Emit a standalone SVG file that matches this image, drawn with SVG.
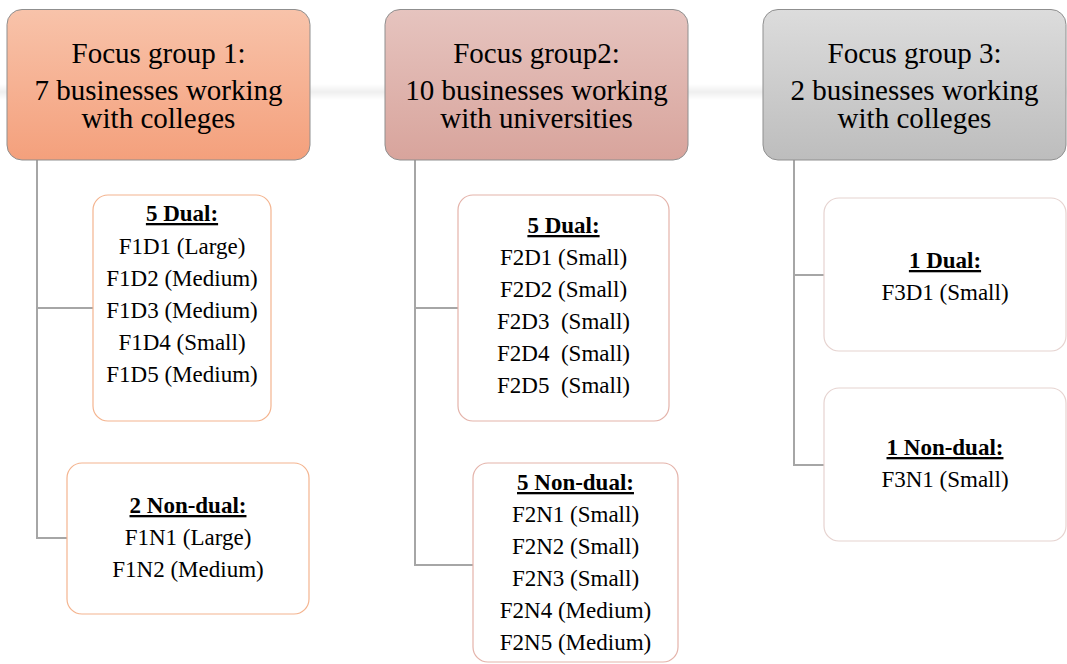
<svg xmlns="http://www.w3.org/2000/svg" width="1067" height="664" viewBox="0 0 1067 664">
<defs>
<linearGradient id="g1" x1="0" y1="0" x2="0" y2="1"><stop offset="0" stop-color="#f8c3aa"/><stop offset="1" stop-color="#f4a07c"/></linearGradient>
<linearGradient id="g2" x1="0" y1="0" x2="0" y2="1"><stop offset="0" stop-color="#e6c4bf"/><stop offset="1" stop-color="#d8a49c"/></linearGradient>
<linearGradient id="g3" x1="0" y1="0" x2="0" y2="1"><stop offset="0" stop-color="#dcdcdc"/><stop offset="1" stop-color="#bdbdbd"/></linearGradient>
<linearGradient id="band" x1="0" y1="0" x2="0" y2="1"><stop offset="0" stop-color="#ffffff"/><stop offset="0.5" stop-color="#efefef"/><stop offset="1" stop-color="#ffffff"/></linearGradient>
</defs>
<style>
.hdr{stroke:#8f8f8f;stroke-width:1}
.box{fill:#ffffff;stroke-width:1.2}
.b1{stroke:#f4b48f}
.b2{stroke:#e4b3aa}
.b3{stroke:#e6d3d0}
text{font-family:"Liberation Serif","Times New Roman",serif;fill:#000000;text-anchor:middle}
.h{font-size:29px}
.s{font-size:23px}
.l{font-weight:bold;text-decoration:underline}
.conn{fill:none;stroke:#a6a6a6;stroke-width:2}
</style>
<rect x="0" y="84" width="1067" height="16" fill="url(#band)"/>
<g id="connectors">
<path class="conn" d="M37 160 V538 H67 M37 308 H93"/>
<path class="conn" d="M415 160 V565 H473 M415 308 H458"/>
<path class="conn" d="M794 160 V465 H824 M794 275 H824"/>
</g>
<g id="fg1">
<rect class="hdr" x="7" y="9.5" width="303" height="150.5" rx="15" fill="url(#g1)"/>
<text class="h" x="158.5" y="63">Focus group 1:</text>
<text class="h" x="158.5" y="100">7 businesses working</text>
<text class="h" x="158.5" y="128">with colleges</text>
</g>
<g id="fg2">
<rect class="hdr" x="385" y="9.5" width="303" height="150.5" rx="15" fill="url(#g2)"/>
<text class="h" x="536.5" y="63">Focus group2:</text>
<text class="h" x="536.5" y="100">10 businesses working</text>
<text class="h" x="536.5" y="128">with universities</text>
</g>
<g id="fg3">
<rect class="hdr" x="763" y="9.5" width="303" height="150.5" rx="15" fill="url(#g3)"/>
<text class="h" x="914.5" y="63">Focus group 3:</text>
<text class="h" x="914.5" y="100">2 businesses working</text>
<text class="h" x="914.5" y="128">with colleges</text>
</g>
<g id="f1-dual">
<rect class="box b1" x="93" y="195" width="178" height="226" rx="15"/>
<text class="s l" x="182" y="221">5 Dual:</text>
<text class="s" x="182" y="254">F1D1 (Large)</text>
<text class="s" x="182" y="286">F1D2 (Medium)</text>
<text class="s" x="182" y="318">F1D3 (Medium)</text>
<text class="s" x="182" y="350">F1D4 (Small)</text>
<text class="s" x="182" y="382">F1D5 (Medium)</text>
</g>
<g id="f1-nondual">
<rect class="box b1" x="67" y="463" width="242" height="151" rx="15"/>
<text class="s l" x="188" y="513">2 Non-dual:</text>
<text class="s" x="188" y="545">F1N1 (Large)</text>
<text class="s" x="188" y="577">F1N2 (Medium)</text>
</g>
<g id="f2-dual">
<rect class="box b2" x="458" y="195" width="211" height="226" rx="15"/>
<text class="s l" x="563.5" y="233">5 Dual:</text>
<text class="s" x="563.5" y="265">F2D1 (Small)</text>
<text class="s" x="563.5" y="297">F2D2 (Small)</text>
<text class="s" x="563.5" y="329" xml:space="preserve">F2D3  (Small)</text>
<text class="s" x="563.5" y="361" xml:space="preserve">F2D4  (Small)</text>
<text class="s" x="563.5" y="393" xml:space="preserve">F2D5  (Small)</text>
</g>
<g id="f2-nondual">
<rect class="box b2" x="473" y="463" width="205" height="199" rx="15"/>
<text class="s l" x="575.5" y="490">5 Non-dual:</text>
<text class="s" x="575.5" y="522">F2N1 (Small)</text>
<text class="s" x="575.5" y="554">F2N2 (Small)</text>
<text class="s" x="575.5" y="586">F2N3 (Small)</text>
<text class="s" x="575.5" y="618">F2N4 (Medium)</text>
<text class="s" x="575.5" y="650">F2N5 (Medium)</text>
</g>
<g id="f3-dual">
<rect class="box b3" x="824" y="198" width="242" height="153" rx="15"/>
<text class="s l" x="945" y="268">1 Dual:</text>
<text class="s" x="945" y="300">F3D1 (Small)</text>
</g>
<g id="f3-nondual">
<rect class="box b3" x="824" y="388" width="242" height="153" rx="15"/>
<text class="s l" x="945" y="455">1 Non-dual:</text>
<text class="s" x="945" y="487">F3N1 (Small)</text>
</g>
</svg>
